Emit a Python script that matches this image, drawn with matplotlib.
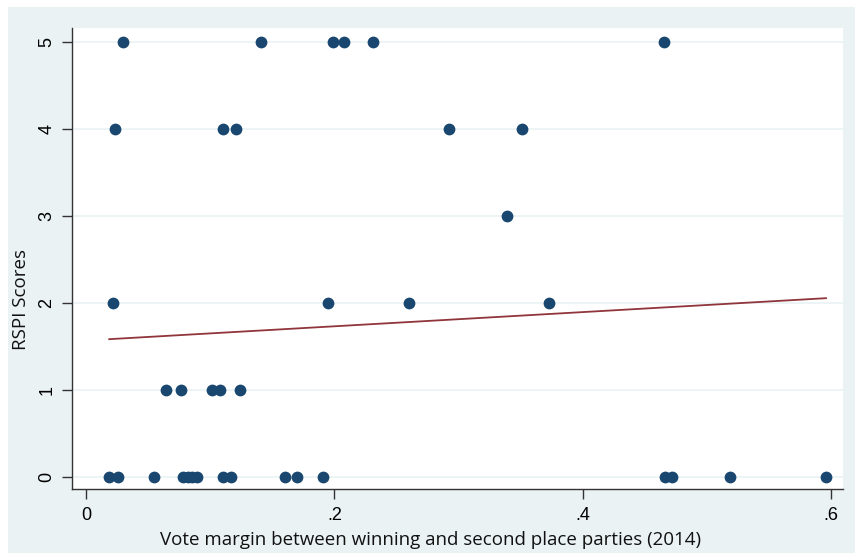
import numpy as np
import matplotlib
matplotlib.use("Agg")
import matplotlib.pyplot as plt
from matplotlib.patches import Rectangle

# Data
x_score5 = [0.0296, 0.141, 0.199, 0.208, 0.231, 0.4655]
x_score4 = [0.0234, 0.110, 0.1205, 0.292, 0.351]
x_score3 = [0.339]
x_score2 = [0.0217, 0.195, 0.260, 0.373]
x_score1 = [0.0644, 0.0765, 0.1015, 0.108, 0.124]
x_score0 = [0.0187, 0.026, 0.055, 0.0779, 0.0824, 0.0856, 0.0892, 0.110, 0.117,
            0.160, 0.170, 0.191, 0.4663, 0.4717, 0.519, 0.596]

# Linear fit line (intercept, slope)
fit_intercept = 1.569
fit_slope = 0.816

x_ticks = [0, 0.2, 0.4, 0.6]
x_ticklabels = ["0", ".2", ".4", ".6"]
y_ticks = [0, 1, 2, 3, 4, 5]
y_ticklabels = ["0", "1", "2", "3", "4", "5"]

xs = np.array(x_score5 + x_score4 + x_score3 + x_score2 + x_score1 + x_score0)
ys = np.array([5] * len(x_score5) + [4] * len(x_score4) + [3] * len(x_score3)
              + [2] * len(x_score2) + [1] * len(x_score1) + [0] * len(x_score0))

BG = "#EAF2F3"
NAVY = "#1A476F"
MAROON = "#90353B"

fig = plt.figure(figsize=(8.55, 5.53), dpi=100, facecolor="white")
bg = Rectangle((8 / 855, 0), 1 - 8 / 855, (553 - 7) / 553,
               transform=fig.transFigure, facecolor=BG, edgecolor="none",
               zorder=-10)
fig.add_artist(bg)

ax = fig.add_axes([72 / 855, 1 - 489 / 553, (843 - 72) / 855, (489 - 28) / 553])
ax.set_zorder(1)
ax.set_facecolor("white")
ax.set_xlim(-0.0113, 0.6097)
ax.set_ylim(-0.138, 5.161)

for yt in y_ticks:
    ax.axhline(yt, color=BG, lw=1.2, zorder=1)

ax.scatter(xs, ys, s=72, color=NAVY, zorder=3, linewidths=0)
xl = np.array([xs.min(), xs.max()])
ax.plot(xl, fit_intercept + fit_slope * xl, color=MAROON, lw=1.3, zorder=2)

for s in ["top", "right"]:
    ax.spines[s].set_visible(False)
for s in ["left", "bottom"]:
    ax.spines[s].set_color("#333333")
    ax.spines[s].set_linewidth(1.0)

ax.set_xticks(x_ticks)
ax.set_xticklabels(x_ticklabels, fontsize=13, family="Liberation Sans")
ax.set_yticks(y_ticks)
ax.set_yticklabels(y_ticklabels, fontsize=13, family="Liberation Sans",
                   rotation=90, va="center")
ax.tick_params(axis="x", direction="out", length=7, width=1.0,
               color="#333333", pad=6)
ax.tick_params(axis="y", direction="out", length=7, width=1.0,
               color="#333333", pad=5)

fig.text(431 / 855, 1 - 540 / 553,
         "Vote margin between winning and second place parties (2014)",
         fontsize=13.5, family="Open Sans", ha="center", va="center",
         color="#111111")
fig.text(21 / 855, 1 - 300 / 553, "RSPI Scores", rotation=90,
         fontsize=13.5, family="Open Sans", ha="center", va="center",
         color="#111111")

fig.savefig("out.png", dpi=100, facecolor=fig.get_facecolor())
